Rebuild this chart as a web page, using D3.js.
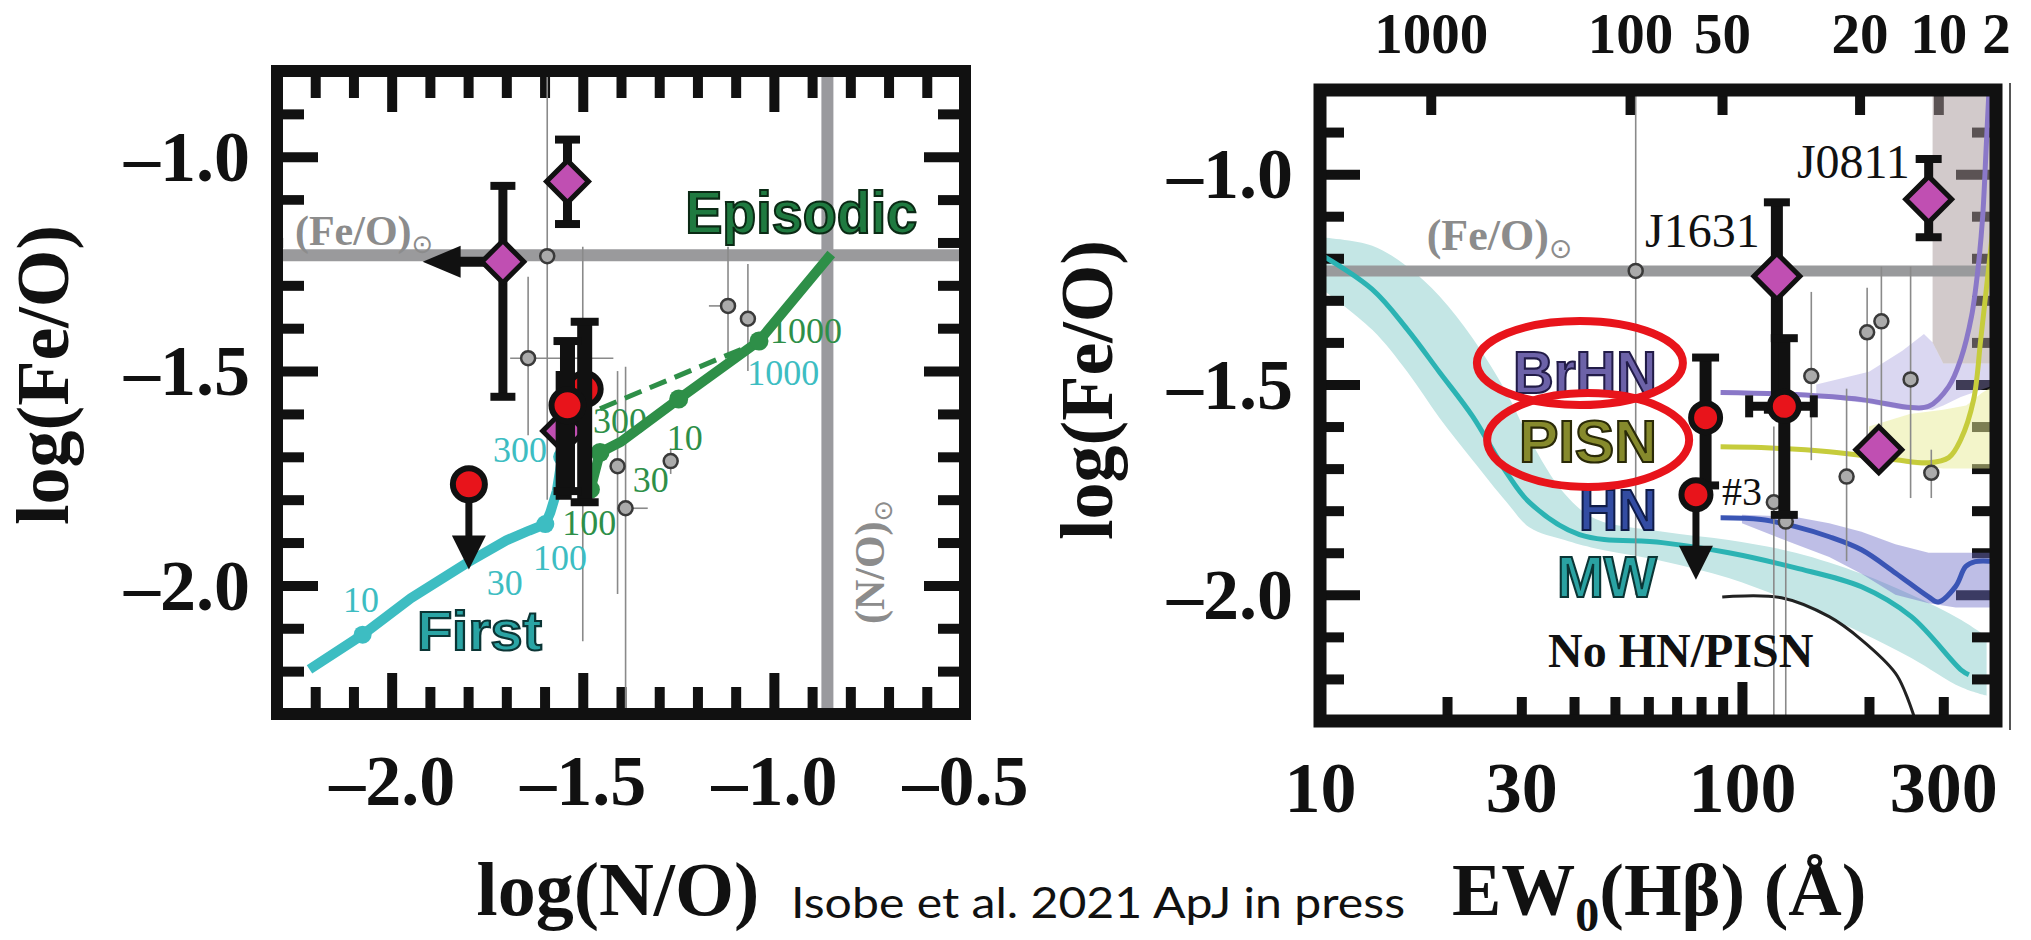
<!DOCTYPE html>
<html><head><meta charset="utf-8">
<script src="https://cdn.jsdelivr.net/npm/d3@7"></script>
<style>body{margin:0;background:#fff;} svg{display:block;}</style>
</head><body>
<svg id="chart" width="2031" height="940"></svg>
<script>
// ================= DATA =================
// ---- left panel: log(N/O) vs log(Fe/O)
const leftXTickLabels = [-2.0, -1.5, -1.0, -0.5];
const leftYTickLabels = [-1.0, -1.5, -2.0];
const solarFeO = -1.23;
const solarNO = -0.86;

// "First" model track (cyan)
const firstNO  = [-2.215, -2.076, -1.95, -1.80, -1.70, -1.64, -1.598, -1.585, -1.568, -1.554, -1.535];
const firstFeO = [-2.196, -2.115, -2.03, -1.946, -1.895, -1.872, -1.857, -1.83, -1.78, -1.70, -1.64];
const firstDotNO  = [-2.076, -1.598, -1.554];
const firstDotFeO = [-2.115, -1.857, -1.70];
// "Episodic" model track (green)
const epiNO  = [-1.48, -1.455, -1.40, -1.249, -1.039, -0.850];
const epiFeO = [-1.776, -1.69, -1.665, -1.565, -1.430, -1.227];
const epiDotNO  = [-1.48, -1.455, -1.249, -1.039];
const epiDotFeO = [-1.776, -1.69, -1.565, -1.430];
const epiDashNO  = [-1.455, -1.133, -1.06];
const epiDashFeO = [-1.588, -1.467, -1.44];

// literature galaxies (grey)
const litNO    = [-1.593, -1.643, -1.50, -1.409, -1.388, -1.27, -1.12, -1.068];
const litFeO   = [-1.232, -1.47, -1.62, -1.722, -1.82, -1.71, -1.348, -1.378];
const litFeLo  = [-1.80, -1.65, -2.13, -2.02, -2.30, -1.74, -1.48, -1.50];
const litFeHi  = [-0.80, -1.28, -1.21, -1.50, -1.49, -1.68, -1.21, -1.25];
const litNOLo  = [-1.593, -1.69, -1.50, -1.409, -1.41, -1.29, -1.17, -1.068];
const litNOHi  = [-1.593, -1.42, -1.50, -1.409, -1.33, -1.25, -1.10, -1.068];

// diamonds (hidden one, J0811, J1631)
const diaNO   = [-1.55, -1.54, -1.709];
const diaFeO  = [-1.64, -1.058, -1.245];
const diaFeLo = [-1.80, -1.157, -1.56];
const diaFeHi = [-1.50, -0.96, -1.068];
const diaNOLimit = [null, null, -1.919];   // upper limit on N/O (arrow to the left)

// red circles (EMPGs)
const redNO    = [-1.495, -1.54, -1.798];
const redFeO   = [-1.542, -1.58, -1.764];
const redFeLo  = [-1.806, -1.78, null];
const redFeHi  = [-1.385, -1.43, null];
const redFeLimit = [null, null, -1.963];   // upper limit on Fe/O (arrow down)

// ---- right panel: EW0(Hb) vs log(Fe/O)
const rightXTickLabels = [10, 30, 100, 300];
const rightYTickLabels = [-1.0, -1.5, -2.0];
const ageLabels = ["1000", "100", "50", "20", "10", "2"];
const ageEW     = [18.3, 54.3, 89.7, 190, 292, 400];

const mwEW  = [10.0, 13.3, 16.1, 19.2, 23.0, 27.7, 31.4, 41.2, 64.7, 93.1, 134, 192, 252, 331, 345];
const mwFeO = [-1.19, -1.274, -1.369, -1.471, -1.576, -1.710, -1.781, -1.857, -1.876, -1.90, -1.936, -1.981, -2.052, -2.179, -2.19];
const mwBandEW = [10, 13.3, 16.1, 19.2, 23, 27.7, 31.4, 38, 45, 65, 93, 134, 192, 252, 331, 380];
const mwBandHi = [-1.15, -1.17, -1.22, -1.29, -1.39, -1.52, -1.63, -1.76, -1.82, -1.85, -1.87, -1.90, -1.95, -2.00, -2.06, -2.10];
const mwBandLo = [-1.27, -1.37, -1.47, -1.58, -1.68, -1.78, -1.84, -1.87, -1.89, -1.92, -1.96, -2.02, -2.09, -2.15, -2.22, -2.24];

const hnEW  = [89, 111, 134, 161, 192, 231, 277, 292, 321, 339, 357, 400];
const hnFeO = [-1.817, -1.821, -1.838, -1.862, -1.893, -1.948, -2.005, -2.017, -1.98, -1.933, -1.921, -1.921];
const hnBandEW = [100, 134, 161, 192, 231, 277, 321, 400];
const hnBandHi = [-1.81, -1.815, -1.83, -1.85, -1.88, -1.90, -1.90, -1.90];
const hnBandLo = [-1.83, -1.88, -1.91, -1.95, -2.00, -2.02, -2.03, -2.03];

const pisnEW  = [89, 111, 161, 231, 277, 309, 330, 354, 368, 384, 396];
const pisnFeO = [-1.648, -1.65, -1.66, -1.679, -1.686, -1.674, -1.631, -1.536, -1.393, -1.226, -1.10];
const pisnBandEW = [200, 250, 300, 340, 370, 400];
const pisnBandHi = [-1.60, -1.57, -1.56, -1.55, -1.52, -1.50];
const pisnBandLo = [-1.66, -1.69, -1.70, -1.70, -1.70, -1.70];

const brhnEW  = [89, 134, 192, 252, 277, 309, 330, 350, 363, 372, 379, 385];
const brhnFeO = [-1.519, -1.524, -1.536, -1.555, -1.552, -1.505, -1.44, -1.338, -1.22, -1.10, -0.94, -0.80];
const brhnBandEW = [150, 200, 240, 270, 283, 300, 330, 400];
const brhnBandHi = [-1.50, -1.47, -1.42, -1.38, -1.40, -1.45, -1.45, -1.45];
const brhnBandLo = [-1.53, -1.545, -1.56, -1.56, -1.56, -1.55, -1.53, -1.50];
const brhnDarkEW  = [283, 283, 300, 330, 360, 400, 400];
const brhnDarkFeO = [-0.80, -1.40, -1.45, -1.45, -1.45, -1.45, -0.80];

const noHnEW  = [89.8, 124, 161, 192, 231, 244, 258];
const noHnFeO = [-2.005, -2.007, -2.052, -2.107, -2.186, -2.233, -2.30];

const gEW   = [56, 146, 198, 214, 251, 177, 281, 119, 127];
const gFeO  = [-1.23, -1.48, -1.376, -1.35, -1.488, -1.719, -1.71, -1.78, -1.826];
const gFeLo = [-2.0, -1.68, -1.68, -1.60, -1.77, -1.92, -1.77, -2.30, -2.34];
const gFeHi = [-0.80, -1.28, -1.27, -1.22, -1.22, -1.51, -1.655, -1.60, -1.60];

const rDiaEW   = [211, 277, 121];
const rDiaFeO  = [-1.655, -1.06, -1.243];
const rDiaFeLo = [null, -1.15, -1.56];
const rDiaFeHi = [null, -0.964, -1.067];

const rRedEW    = [126, 82, 77.8];
const rRedFeO   = [-1.552, -1.579, -1.762];
const rRedFeLo  = [-1.81, -1.74, null];
const rRedFeHi  = [-1.39, -1.436, null];
const rRedEWLo  = [104, null, null];
const rRedEWHi  = [148, null, null];
const rRedFeLimit = [null, null, -1.964];

// ================= DRAWING =================
const svg = d3.select("#chart");
const serif = "'Liberation Serif','Times New Roman',serif";
const sans = "'Liberation Sans',Arial,sans-serif";
const fmt = d => (d < 0 ? "\u2013" : "") + Math.abs(d).toFixed(1);

const xL = d3.scaleLinear().domain([-2.3, -0.5]).range([277, 965]);
const yL = d3.scaleLinear().domain([-0.8, -2.3]).range([71, 714]);
const xR = d3.scaleLog().domain([10, 400]).range([1320, 1996]);
const yR = d3.scaleLinear().domain([-0.8, -2.3]).range([90, 721]);

const defs = svg.append("defs");
defs.append("clipPath").attr("id", "clipL").append("rect")
  .attr("x", 277).attr("y", 71).attr("width", 688).attr("height", 643);
defs.append("clipPath").attr("id", "clipR").append("rect")
  .attr("x", 1320).attr("y", 90).attr("width", 676).attr("height", 631);

const tenths = (a, b) => d3.range(a, b + 1).map(v => v / 10);
const isMajorHalf = v => Math.abs(v * 2 - Math.round(v * 2)) < 1e-6;

function tickAxis(g, axisFn, scale, values, size, tx, ty) {
  const a = axisFn(scale).tickValues(values).tickSize(-size).tickFormat("");
  const gg = g.append("g").attr("transform", `translate(${tx},${ty})`).call(a);
  gg.select(".domain").remove();
  gg.selectAll("line").attr("stroke", "#111").attr("stroke-width", 10);
  return gg;
}
function labelAxis(g, axisFn, scale, values, pad, tx, ty, fmtFn, dy, fs) {
  const a = axisFn(scale).tickValues(values).tickSize(0).tickPadding(pad).tickFormat(fmtFn);
  const gg = g.append("g").attr("transform", `translate(${tx},${ty})`).call(a);
  gg.select(".domain").remove();
  gg.selectAll("line").remove();
  gg.attr("font-family", serif).attr("font-size", fs).attr("font-weight", "bold");
  gg.selectAll("text").attr("fill", "#111").attr("dy", dy);
  return gg;
}

// ---------------- LEFT PANEL ----------------
const L = svg.append("g");
const lxAll = tenths(-22, -6);
const lyAll = tenths(-22, -9);
tickAxis(L, d3.axisBottom, xL, lxAll.filter(v => !isMajorHalf(v)), 27, 0, 714);
tickAxis(L, d3.axisBottom, xL, lxAll.filter(isMajorHalf), 41, 0, 714);
tickAxis(L, d3.axisTop, xL, lxAll.filter(v => !isMajorHalf(v)), 27, 0, 71);
tickAxis(L, d3.axisTop, xL, lxAll.filter(isMajorHalf), 41, 0, 71);
tickAxis(L, d3.axisLeft, yL, lyAll.filter(v => !isMajorHalf(v)), 27, 277, 0);
tickAxis(L, d3.axisLeft, yL, lyAll.filter(isMajorHalf), 41, 277, 0);
tickAxis(L, d3.axisRight, yL, lyAll.filter(v => !isMajorHalf(v)), 27, 965, 0);
tickAxis(L, d3.axisRight, yL, lyAll.filter(isMajorHalf), 41, 965, 0);

labelAxis(L, d3.axisBottom, xL, leftXTickLabels, 40, 0, 714, fmt, "0.71em", 72);
labelAxis(L, d3.axisLeft, yL, leftYTickLabels, 27, 277, 0, fmt, "0.33em", 72);

L.append("rect").attr("x", xL(-2.284)).attr("y", yL(-1.112)).attr("width", 162).attr("height", 49).attr("fill", "#fff");

const Ld = L.append("g").attr("clip-path", "url(#clipL)");
Ld.append("line").attr("x1", xL(-2.3)).attr("x2", xL(-0.5)).attr("y1", yL(solarFeO)).attr("y2", yL(solarFeO))
  .attr("stroke", "#9a9a9c").attr("stroke-width", 12);
Ld.append("line").attr("x1", xL(solarNO)).attr("x2", xL(solarNO)).attr("y1", yL(-0.8)).attr("y2", yL(-2.3))
  .attr("stroke", "#9a9a9e").attr("stroke-width", 12);

litNO.forEach((x, i) => {
  Ld.append("line").attr("x1", xL(x)).attr("x2", xL(x)).attr("y1", yL(litFeLo[i])).attr("y2", yL(litFeHi[i]))
    .attr("stroke", "#8a8a8a").attr("stroke-width", 1.6);
  Ld.append("line").attr("x1", xL(litNOLo[i])).attr("x2", xL(litNOHi[i])).attr("y1", yL(litFeO[i])).attr("y2", yL(litFeO[i]))
    .attr("stroke", "#8a8a8a").attr("stroke-width", 1.6);
});
litNO.forEach((x, i) => {
  Ld.append("circle").attr("cx", xL(x)).attr("cy", yL(litFeO[i])).attr("r", 7)
    .attr("fill", "#ababab").attr("stroke", "#3a3a3a").attr("stroke-width", 2.5);
});

const lineL = d3.line().x(d => xL(d[0])).y(d => yL(d[1]));
const cyan = "#3dbdc2", green = "#2e8f48";
Ld.append("path").attr("d", lineL(d3.zip(firstNO, firstFeO))).attr("fill", "none")
  .attr("stroke", cyan).attr("stroke-width", 10).attr("stroke-linejoin", "round");
firstDotNO.forEach((x, i) => Ld.append("circle").attr("cx", xL(x)).attr("cy", yL(firstDotFeO[i])).attr("r", 9).attr("fill", cyan));
Ld.append("path").attr("d", lineL(d3.zip(epiDashNO, epiDashFeO))).attr("fill", "none")
  .attr("stroke", green).attr("stroke-width", 5).attr("stroke-dasharray", "18,9");
Ld.append("path").attr("d", lineL(d3.zip(epiNO, epiFeO))).attr("fill", "none")
  .attr("stroke", green).attr("stroke-width", 10).attr("stroke-linejoin", "round");
epiDotNO.forEach((x, i) => Ld.append("circle").attr("cx", xL(x)).attr("cy", yL(epiDotFeO[i])).attr("r", 9.5).attr("fill", green));

const cyanLbl = [["10", -2.127, -2.062], ["30", -1.751, -2.022], ["100", -1.630, -1.964], ["300", -1.735, -1.712], ["1000", -1.070, -1.532]];
const greenLbl = [["1000", -1.010, -1.435], ["10", -1.280, -1.684], ["30", -1.369, -1.782], ["100", -1.554, -1.882], ["300", -1.473, -1.644]];
cyanLbl.forEach(d => L.append("text").attr("x", xL(d[1])).attr("y", yL(d[2])).text(d[0])
  .attr("font-family", serif).attr("font-size", 36).attr("fill", cyan));
greenLbl.forEach(d => L.append("text").attr("x", xL(d[1])).attr("y", yL(d[2])).text(d[0])
  .attr("font-family", serif).attr("font-size", 36).attr("fill", green));

const Lp = L.append("g");
function errV(g, x, y1, y2, w, cap) {
  g.append("line").attr("x1", x).attr("x2", x).attr("y1", y1).attr("y2", y2).attr("stroke", "#111").attr("stroke-width", w);
  if (cap) {
    [y1, y2].forEach(yy => g.append("line").attr("x1", x - cap / 2).attr("x2", x + cap / 2).attr("y1", yy).attr("y2", yy)
      .attr("stroke", "#111").attr("stroke-width", 8));
  }
}
function arrowDown(g, x, y0, y1) {
  g.append("line").attr("x1", x).attr("x2", x).attr("y1", y0).attr("y2", y1 - 25).attr("stroke", "#111").attr("stroke-width", 7);
  g.append("path").attr("d", `M${x - 17},${y1 - 34}L${x + 17},${y1 - 34}L${x},${y1}Z`).attr("fill", "#111");
}
function drawDiamond(g, x, y, s) {
  g.append("path").attr("d", d3.symbol().type(d3.symbolSquare).size(2 * s * s)())
    .attr("transform", `translate(${x},${y}) rotate(45)`)
    .attr("fill", "#c04fb2").attr("stroke", "#111").attr("stroke-width", 5).attr("stroke-linejoin", "miter");
}
function drawRed(g, x, y, r) {
  g.append("circle").attr("cx", x).attr("cy", y).attr("r", r).attr("fill", "#e8141b").attr("stroke", "#111").attr("stroke-width", 6);
}

// isolated diamonds (J0811, J1631)
[1, 2].forEach(i => {
  const px = xL(diaNO[i]), py = yL(diaFeO[i]);
  errV(Lp, px, yL(diaFeLo[i]), yL(diaFeHi[i]), 9, 25);
  if (diaNOLimit[i] !== null) {
    const tip = xL(diaNOLimit[i]);
    Lp.append("line").attr("x1", px).attr("x2", tip + 30).attr("y1", py).attr("y2", py).attr("stroke", "#111").attr("stroke-width", 10);
    Lp.append("path").attr("d", `M${tip + 38},${py - 16}L${tip + 38},${py + 16}L${tip},${py}Z`).attr("fill", "#111");
  }
  drawDiamond(Lp, px, py, 21);
});
// crowded group near log(N/O) = -1.5: diamond and second red circle sit beneath the error bars
drawDiamond(Lp, xL(diaNO[0]), yL(diaFeO[0]), 21);
drawRed(Lp, xL(redNO[0]), yL(redFeO[0]), 16);
errV(Lp, xL(diaNO[0]), yL(diaFeLo[0]), yL(diaFeHi[0]), 16, 0);
[0, 1].forEach(i => errV(Lp, xL(redNO[i]), yL(redFeLo[i]), yL(redFeHi[i]), 15, 28));
drawRed(Lp, xL(redNO[1]), yL(redFeO[1]), 16);
// upper limit point
{
  const i = 2, px = xL(redNO[i]), py = yL(redFeO[i]);
  arrowDown(Lp, px, py, yL(redFeLimit[i]));
  drawRed(Lp, px, py, 16);
}

function outlined(g, txt, x, y, fill, stroke, fs, len, anchor) {
  const t = g.append("text").attr("x", x).attr("y", y).text(txt)
    .attr("font-family", sans).attr("font-weight", "bold").attr("font-size", fs)
    .attr("fill", fill).attr("stroke", stroke).attr("stroke-width", 2.2)
    .attr("text-anchor", anchor || "start");
  if (len) t.attr("textLength", len).attr("lengthAdjust", "spacingAndGlyphs");
  return t;
}
outlined(L, "Episodic", xL(-1.232), yL(-1.178), "#1f7a40", "#0b2a15", 60, 232);
outlined(L, "First", xL(-1.934), yL(-2.151), "#2aa4a4", "#0b3535", 56, 125);

const sunLbl = L.append("text").attr("x", xL(-2.253)).attr("y", yL(-1.206))
  .attr("font-family", serif).attr("font-weight", "bold").attr("font-size", 42).attr("fill", "#8c8c8c");
sunLbl.append("tspan").text("(Fe/O)");
sunLbl.append("tspan").text("\u2299").attr("font-size", 26).attr("dy", 8).attr("font-family", "'DejaVu Sans'").attr("font-weight", "normal");

const noLbl = L.append("text").attr("transform", `translate(${xL(-0.712)},${yL(-1.945)}) rotate(-90)`)
  .attr("text-anchor", "middle").attr("font-family", serif).attr("font-weight", "bold").attr("font-size", 42).attr("fill", "#8c8c8c");
noLbl.append("tspan").text("(N/O)");
noLbl.append("tspan").text("\u2299").attr("font-size", 26).attr("dy", 8).attr("font-family", "'DejaVu Sans'").attr("font-weight", "normal");

L.append("rect").attr("x", 277).attr("y", 71).attr("width", 688).attr("height", 643)
  .attr("fill", "none").attr("stroke", "#111").attr("stroke-width", 12);

L.append("text").attr("transform", "translate(68,375) rotate(-90)").attr("text-anchor", "middle")
  .attr("font-family", serif).attr("font-weight", "bold").attr("font-size", 74).attr("fill", "#111").text("log(Fe/O)");
L.append("text").attr("x", 618).attr("y", 915).attr("text-anchor", "middle")
  .attr("font-family", serif).attr("font-weight", "bold").attr("font-size", 76).attr("fill", "#111").text("log(N/O)");
svg.append("text").attr("x", 791).attr("y", 918).attr("font-family", "Lato,'Open Sans',sans-serif").attr("font-size", 42)
  .attr("fill", "#111").attr("textLength", 614).attr("lengthAdjust", "spacingAndGlyphs").text("Isobe et al. 2021 ApJ in press");

// ---------------- RIGHT PANEL ----------------
const R = svg.append("g");
const Rb = R.append("g").attr("clip-path", "url(#clipR)");
const areaR = d3.area().x(d => xR(d[0])).y0(d => yR(d[1])).y1(d => yR(d[2])).curve(d3.curveCatmullRom.alpha(0.5));
const areaRl = d3.area().x(d => xR(d[0])).y0(d => yR(d[1])).y1(d => yR(d[2]));
const lineR = d3.line().x(d => xR(d[0])).y(d => yR(d[1]));

Rb.append("path").attr("d", areaR(d3.zip(mwBandEW, mwBandLo, mwBandHi))).attr("fill", "#c4e6e5");

const ryAll = tenths(-22, -9);
const rxMinor = [20, 30, 40, 50, 60, 70, 80, 90, 200, 300];
tickAxis(R, d3.axisLeft, yR, ryAll.filter(v => !isMajorHalf(v)), 24, 1320, 0);
tickAxis(R, d3.axisLeft, yR, ryAll.filter(isMajorHalf), 40, 1320, 0);
tickAxis(R, d3.axisRight, yR, ryAll.filter(v => !isMajorHalf(v)), 24, 1996, 0);
tickAxis(R, d3.axisRight, yR, ryAll.filter(isMajorHalf), 40, 1996, 0);
tickAxis(R, d3.axisBottom, xR, rxMinor, 24, 0, 721);
tickAxis(R, d3.axisBottom, xR, [100], 39, 0, 721);
tickAxis(R, d3.axisTop, xR, ageEW.slice(0, 5), 25, 0, 90);

labelAxis(R, d3.axisBottom, xR, rightXTickLabels, 40, 0, 721, d => String(d), "0.71em", 72);
labelAxis(R, d3.axisLeft, yR, rightYTickLabels, 27, 1320, 0, fmt, "0.33em", 72);
labelAxis(R, d3.axisTop, xR, ageEW, 37, 0, 90, (d, i) => ageLabels[i], "0em", 57);

const Rd = R.append("g").attr("clip-path", "url(#clipR)");
Rd.append("path").attr("d", areaRl(d3.zip(brhnBandEW, brhnBandLo, brhnBandHi))).attr("fill", "rgba(150,140,215,0.35)");
Rd.append("path").attr("d", lineR(d3.zip(brhnDarkEW, brhnDarkFeO)) + "Z").attr("fill", "rgba(165,150,152,0.5)");
Rd.append("path").attr("d", areaRl(d3.zip(pisnBandEW, pisnBandLo, pisnBandHi))).attr("fill", "rgba(232,236,150,0.5)");
Rd.append("path").attr("d", areaRl(d3.zip(hnBandEW, hnBandLo, hnBandHi))).attr("fill", "rgba(110,110,200,0.45)");

Rd.append("line").attr("x1", 1320).attr("x2", 1996).attr("y1", yR(solarFeO)).attr("y2", yR(solarFeO))
  .attr("stroke", "#999a9c").attr("stroke-width", 11);

const lineRc = d3.line().x(d => xR(d[0])).y(d => yR(d[1])).curve(d3.curveCatmullRom.alpha(0.5));
Rd.append("path").attr("d", lineRc(d3.zip(mwEW, mwFeO))).attr("fill", "none").attr("stroke", "#2bb3b3").attr("stroke-width", 5);
Rd.append("path").attr("d", lineRc(d3.zip(noHnEW, noHnFeO))).attr("fill", "none").attr("stroke", "#222").attr("stroke-width", 3);
Rd.append("path").attr("d", lineRc(d3.zip(hnEW, hnFeO))).attr("fill", "none").attr("stroke", "#3a55b5").attr("stroke-width", 5);
Rd.append("path").attr("d", lineRc(d3.zip(pisnEW, pisnFeO))).attr("fill", "none").attr("stroke", "#c6cc3c").attr("stroke-width", 5);
Rd.append("path").attr("d", lineRc(d3.zip(brhnEW, brhnFeO))).attr("fill", "none").attr("stroke", "#8a78c8").attr("stroke-width", 5);

gEW.forEach((x, i) => {
  Rd.append("line").attr("x1", xR(x)).attr("x2", xR(x)).attr("y1", yR(gFeLo[i])).attr("y2", yR(gFeHi[i]))
    .attr("stroke", "#8a8a8a").attr("stroke-width", 1.6);
});
gEW.forEach((x, i) => {
  Rd.append("circle").attr("cx", xR(x)).attr("cy", yR(gFeO[i])).attr("r", 7)
    .attr("fill", "#ababab").attr("stroke", "#3a3a3a").attr("stroke-width", 2.5);
});

const Rp = R.append("g");
rDiaEW.forEach((x, i) => {
  const px = xR(x);
  if (rDiaFeLo[i] !== null) errV(Rp, px, yR(rDiaFeLo[i]), yR(rDiaFeHi[i]), i === 2 ? 12 : 9, 26);
});
rRedEW.forEach((x, i) => {
  const px = xR(x), py = yR(rRedFeO[i]);
  if (rRedFeLo[i] !== null) errV(Rp, px, yR(rRedFeLo[i]), yR(rRedFeHi[i]), 12, 27);
  if (rRedEWLo[i] !== null) {
    Rp.append("line").attr("x1", xR(rRedEWLo[i])).attr("x2", xR(rRedEWHi[i])).attr("y1", py).attr("y2", py).attr("stroke", "#111").attr("stroke-width", 9);
    [rRedEWLo[i], rRedEWHi[i]].forEach(e => Rp.append("line").attr("x1", xR(e)).attr("x2", xR(e)).attr("y1", py - 11).attr("y2", py + 11)
      .attr("stroke", "#111").attr("stroke-width", 8));
  }
  if (rRedFeLimit[i] !== null) arrowDown(Rp, px, py, yR(rRedFeLimit[i]));
});
rDiaEW.forEach((x, i) => drawDiamond(Rp, xR(x), yR(rDiaFeO[i]), 23));
rRedEW.forEach((x, i) => drawRed(Rp, xR(x), yR(rRedFeO[i]), 14.5));

const RL = R.append("g");
outlined(RL, "BrHN", xR(62.9), yR(-1.520), "#6c62a8", "#221c48", 60, 144, "end");
outlined(RL, "PISN", xR(62.9), yR(-1.684), "#868a2c", "#2a2a08", 60, 138, "end");
outlined(RL, "HN", xR(62.9), yR(-1.846), "#334ca2", "#101c48", 58, 78, "end");
outlined(RL, "MW", xR(62.9), yR(-2.005), "#2aa2a2", "#0b3535", 58, 100, "end");
RL.append("text").attr("x", xR(34.7)).attr("y", yR(-2.172)).attr("font-family", serif).attr("font-weight", "bold")
  .attr("font-size", 48).attr("fill", "#111").text("No HN/PISN");
RL.append("text").attr("x", xR(58.9)).attr("y", yR(-1.173)).attr("font-family", serif).attr("font-size", 48).attr("fill", "#111").text("J1631");
RL.append("text").attr("x", xR(135)).attr("y", yR(-1.009)).attr("font-family", serif).attr("font-size", 48).attr("fill", "#111").text("J0811");
RL.append("text").attr("x", xR(89.7)).attr("y", yR(-1.787)).attr("font-family", serif).attr("font-size", 40).attr("fill", "#111").text("#3");
const sunR = RL.append("text").attr("x", xR(17.9)).attr("y", yR(-1.180))
  .attr("font-family", serif).attr("font-weight", "bold").attr("font-size", 44).attr("fill", "#8c8c8c");
sunR.append("tspan").text("(Fe/O)");
sunR.append("tspan").text("\u2299").attr("font-size", 28).attr("dy", 8).attr("font-family", "'DejaVu Sans'").attr("font-weight", "normal");

[[41.3, -1.449, 103, 42], [43.2, -1.632, 101, 47]].forEach(e => {
  RL.append("ellipse").attr("cx", xR(e[0])).attr("cy", yR(e[1])).attr("rx", e[2]).attr("ry", e[3])
    .attr("fill", "none").attr("stroke", "#e8141b").attr("stroke-width", 8);
});

R.append("rect").attr("x", 1320).attr("y", 90).attr("width", 676).attr("height", 631)
  .attr("fill", "none").attr("stroke", "#111").attr("stroke-width", 13);
R.append("line").attr("x1", 2010).attr("x2", 2010).attr("y1", 83).attr("y2", 730).attr("stroke", "#555").attr("stroke-width", 2);

R.append("text").attr("transform", "translate(1112,390) rotate(-90)").attr("text-anchor", "middle")
  .attr("font-family", serif).attr("font-weight", "bold").attr("font-size", 74).attr("fill", "#111").text("log(Fe/O)");
const ewT = R.append("text").attr("x", 1452).attr("y", 915).attr("font-family", serif).attr("font-weight", "bold")
  .attr("font-size", 74).attr("fill", "#111");
ewT.append("tspan").text("EW");
ewT.append("tspan").text("0").attr("font-size", 48).attr("dy", 16);
ewT.append("tspan").text("(H\u03b2) (\u00c5)").attr("dy", -16);
</script>
</body></html>
